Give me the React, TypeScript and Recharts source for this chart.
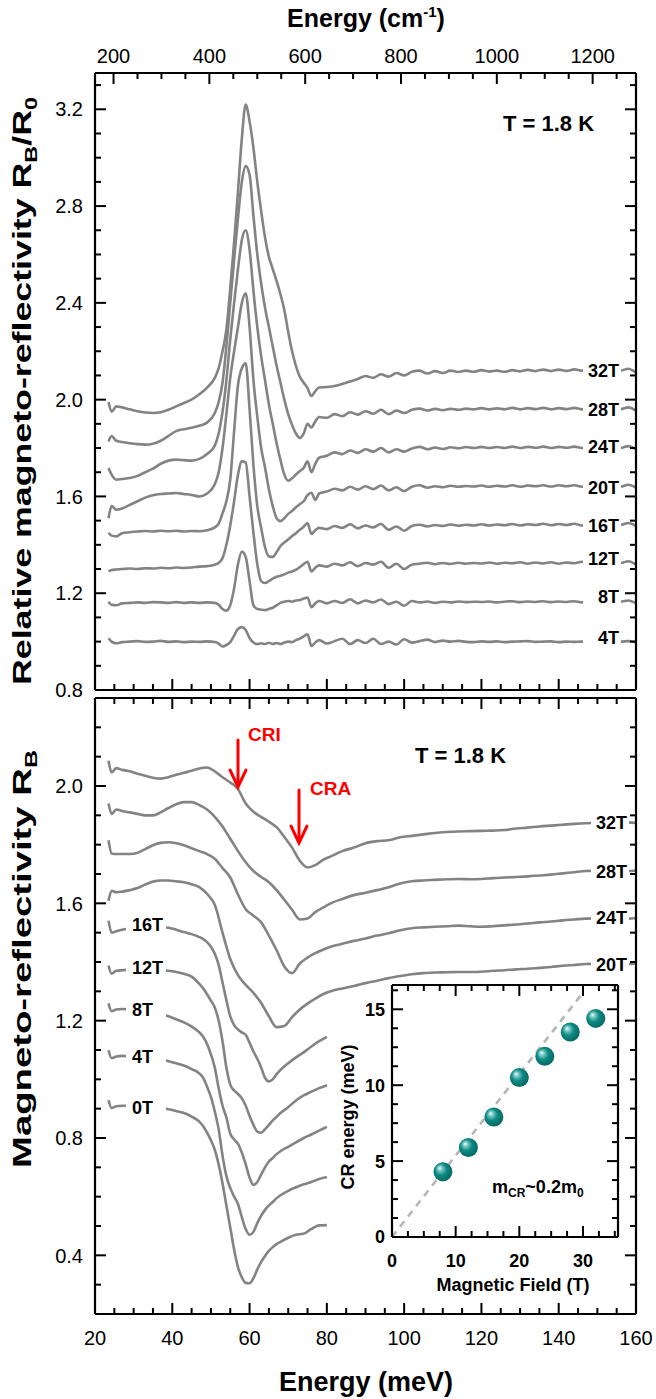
import React from "react";
import {
  LineChart,
  Line,
  XAxis,
  YAxis,
  ScatterChart,
  Scatter,
  ReferenceLine,
} from "recharts";

// ---------------------------------------------------------------------------
// Magneto-reflectivity figure: two stacked panels + CR inset
// ---------------------------------------------------------------------------

const FONT = '"Liberation Sans", Arial, Helvetica, sans-serif';
const CURVE_GRAY = "#838383";
const CM_PER_MEV = 8.0655;

// ---- axis ticks / labels ----
const ENERGY_TICKS = [20, 25, 30, 35, 40, 45, 50, 55, 60, 65, 70, 75, 80, 85, 90, 95, 100, 105, 110, 115, 120, 125, 130, 135, 140, 145, 150, 155, 160];
const ENERGY_LABELS = [20, 40, 60, 80, 100, 120, 140, 160];
const WAVENUMBER_TICKS = [200, 250, 300, 350, 400, 450, 500, 550, 600, 650, 700, 750, 800, 850, 900, 950, 1000, 1050, 1100, 1150, 1200, 1250];
const WAVENUMBER_LABELS = [200, 400, 600, 800, 1000, 1200];
const TOP_Y_TICKS = [0.8, 0.9, 1.0, 1.1, 1.2, 1.3, 1.4, 1.5, 1.6, 1.7, 1.8, 1.9, 2.0, 2.1, 2.2, 2.3, 2.4, 2.5, 2.6, 2.7, 2.8, 2.9, 3.0, 3.1, 3.2, 3.3];
const TOP_Y_LABELS = [0.8, 1.2, 1.6, 2.0, 2.4, 2.8, 3.2];
const BOT_Y_TICKS = [0.3, 0.4, 0.5, 0.6, 0.7, 0.8, 0.9, 1.0, 1.1, 1.2, 1.3, 1.4, 1.5, 1.6, 1.7, 1.8, 1.9, 2.0, 2.1, 2.2];
const BOT_Y_LABELS = [0.4, 0.8, 1.2, 1.6, 2.0];
const FIELD_TICKS = [0, 2.5, 5, 7.5, 10, 12.5, 15, 17.5, 20, 22.5, 25, 27.5, 30, 32.5, 35];
const FIELD_LABELS = [0, 10, 20, 30];
const CR_TICKS = [0, 1.25, 2.5, 3.75, 5, 6.25, 7.5, 8.75, 10, 11.25, 12.5, 13.75, 15, 16.25];
const CR_LABELS = [0, 5, 10, 15];

// ---- top panel: relative magneto-reflectivity R_B/R_0 ----
const TOP_E = [
  23.5, 24.3, 25.5, 27, 29, 31, 33, 35, 37, 39, 41, 43, 45, 47, 49, 51,
  52, 53, 54, 55, 56, 57, 58, 59, 60, 61, 62, 63, 64, 65, 66, 67, 68, 69, 70, 71, 72, 73, 74, 75, 76, 77, 78,
  80, 82, 84, 86, 88, 90, 92, 94, 96, 98, 100, 102, 104, 106, 108, 110, 112, 114, 116, 118, 120, 122, 124, 126, 128, 130, 132, 134, 136, 138, 140, 142, 144, 146, 148, 150, 152, 154, 156, 158, 160,
];
const TOP_4T = [
  1.014, 1.0, 0.993, 0.998, 1.0, 1.002, 0.999, 1.0, 1.003, 0.999, 1.001, 0.998, 1.0, 0.999, 1.001, 0.998,
  0.992, 0.98, 0.986, 0.998, 1.025, 1.052, 1.06, 1.048, 1.015, 0.996, 0.99, 0.993, 0.99, 0.995, 0.99, 0.994, 0.99, 0.996, 1.0, 0.998, 1.006, 1.012, 1.022, 1.03, 0.982, 0.996, 1.006,
  0.992, 1.002, 1.012, 0.99, 1.006, 0.994, 1.012, 0.99, 1.0, 0.988, 1.01, 0.996, 1.002, 1.008, 0.998, 1.004, 1.0, 1.003, 0.999, 0.998, 1.001, 0.999, 1.001, 0.998, 1.0, 1.001, 1.002, 0.999, 1.0, 1.001, 0.998, 1.0, 0.999, 1.0, 1.0, 1.0, 1.0, 1.0, 1.0, 1.002, 0.997,
];
const TOP_8T = [
  1.165, 1.152, 1.15, 1.158, 1.16, 1.162, 1.16, 1.163, 1.162, 1.16, 1.163, 1.16, 1.162, 1.16, 1.162, 1.16,
  1.152, 1.135, 1.128, 1.15, 1.22, 1.32, 1.372, 1.35, 1.25, 1.15, 1.135, 1.132, 1.13, 1.135, 1.14, 1.15, 1.16, 1.165, 1.168, 1.165, 1.17, 1.172, 1.178, 1.182, 1.142, 1.158, 1.168,
  1.158, 1.168, 1.16, 1.175, 1.158, 1.17, 1.162, 1.174, 1.155, 1.165, 1.148, 1.168, 1.162, 1.166, 1.16, 1.165, 1.162, 1.166, 1.163, 1.165, 1.164, 1.166, 1.162, 1.165, 1.167, 1.163, 1.166, 1.164, 1.167, 1.163, 1.166, 1.164, 1.167, 1.162, 1.165, 1.165, 1.165, 1.165, 1.165, 1.17, 1.158,
];
const TOP_12T = [
  1.29, 1.296, 1.298, 1.3, 1.302, 1.3, 1.303, 1.302, 1.305, 1.303, 1.306, 1.304, 1.306, 1.31, 1.312, 1.318,
  1.325, 1.345, 1.4, 1.48, 1.58, 1.69, 1.745, 1.74, 1.6, 1.45, 1.32, 1.25, 1.242, 1.25, 1.26, 1.268, 1.272, 1.278, 1.285, 1.29, 1.297, 1.308, 1.32, 1.33, 1.29, 1.305, 1.315,
  1.31, 1.322, 1.315, 1.328, 1.312, 1.325, 1.318, 1.33, 1.305, 1.322, 1.3, 1.318, 1.322, 1.326, 1.32, 1.325, 1.321, 1.326, 1.322, 1.325, 1.323, 1.327, 1.322, 1.326, 1.324, 1.328, 1.322, 1.327, 1.323, 1.328, 1.322, 1.327, 1.324, 1.33, 1.325, 1.325, 1.325, 1.325, 1.325, 1.332, 1.318,
];
const TOP_16T = [
  1.45, 1.438, 1.435, 1.448, 1.452, 1.455, 1.457, 1.455, 1.458, 1.456, 1.458, 1.455, 1.457, 1.456, 1.46, 1.472,
  1.488, 1.53, 1.58, 1.67, 1.87, 2.06, 2.13, 2.15, 1.96, 1.73, 1.56, 1.47, 1.39, 1.352, 1.35, 1.37, 1.395, 1.41, 1.422, 1.436, 1.448, 1.462, 1.475, 1.49, 1.445, 1.46, 1.47,
  1.465, 1.478, 1.47, 1.485, 1.468, 1.48, 1.472, 1.486, 1.462, 1.476, 1.458, 1.478, 1.483, 1.476, 1.482, 1.478, 1.484, 1.479, 1.483, 1.48, 1.485, 1.48, 1.484, 1.481, 1.486, 1.48, 1.485, 1.482, 1.487, 1.481, 1.486, 1.482, 1.487, 1.48, 1.483, 1.483, 1.483, 1.483, 1.483, 1.49, 1.478,
];
const TOP_20T = [
  1.51, 1.56, 1.545, 1.55, 1.565, 1.58, 1.595, 1.605, 1.61, 1.612, 1.614, 1.61, 1.606, 1.6, 1.612, 1.65,
  1.7, 1.8, 1.94, 2.09, 2.2, 2.3, 2.4, 2.44, 2.3, 2.08, 1.93, 1.8, 1.72, 1.63, 1.56, 1.51, 1.498, 1.51, 1.528, 1.54, 1.555, 1.568, 1.58, 1.605, 1.615, 1.585, 1.612,
  1.62, 1.632, 1.625, 1.64, 1.628, 1.642, 1.63, 1.645, 1.625, 1.638, 1.622, 1.64, 1.646, 1.636, 1.642, 1.638, 1.644, 1.64, 1.643, 1.641, 1.645, 1.64, 1.644, 1.641, 1.646, 1.64, 1.645, 1.642, 1.646, 1.641, 1.646, 1.642, 1.646, 1.64, 1.641, 1.641, 1.641, 1.641, 1.641, 1.648, 1.636,
];
const TOP_24T = [
  1.717, 1.69, 1.669, 1.672, 1.676, 1.685, 1.7, 1.715, 1.735, 1.748, 1.752, 1.75, 1.748, 1.755, 1.775, 1.81,
  1.86, 1.95, 2.08, 2.25, 2.4, 2.54, 2.66, 2.7, 2.62, 2.45, 2.3, 2.18, 2.08, 1.98, 1.9, 1.82, 1.75, 1.69, 1.665, 1.675, 1.69, 1.705, 1.718, 1.745, 1.7, 1.735, 1.76,
  1.768, 1.782, 1.775, 1.79, 1.78, 1.795, 1.785, 1.8, 1.782, 1.795, 1.785, 1.798, 1.805, 1.795, 1.802, 1.796, 1.803, 1.799, 1.804, 1.8, 1.805, 1.8, 1.804, 1.8, 1.806, 1.8, 1.805, 1.801, 1.806, 1.8, 1.805, 1.801, 1.806, 1.8, 1.8, 1.8, 1.8, 1.8, 1.8, 1.808, 1.795,
];
const TOP_28T = [
  1.827, 1.85, 1.83, 1.825, 1.82, 1.816, 1.814, 1.818, 1.83, 1.85, 1.87, 1.878, 1.884, 1.892, 1.905, 1.945,
  1.99, 2.07, 2.22, 2.4, 2.58, 2.75, 2.9, 2.965, 2.93, 2.76, 2.6, 2.48, 2.38, 2.3, 2.22, 2.14, 2.07, 2.0, 1.94, 1.895, 1.86, 1.842, 1.86, 1.9, 1.885, 1.91, 1.928,
  1.925, 1.94, 1.932, 1.948, 1.938, 1.952, 1.942, 1.958, 1.94, 1.955, 1.945, 1.958, 1.963, 1.955, 1.962, 1.956, 1.962, 1.958, 1.963, 1.96, 1.965, 1.96, 1.964, 1.96, 1.966, 1.96, 1.965, 1.961, 1.966, 1.96, 1.965, 1.961, 1.966, 1.96, 1.961, 1.961, 1.961, 1.961, 1.961, 1.968, 1.955,
];
const TOP_32T = [
  1.99, 1.95, 1.972, 1.968, 1.96, 1.952, 1.947, 1.945, 1.948, 1.958, 1.972, 1.986, 2.0, 2.022, 2.05, 2.09,
  2.13, 2.2, 2.29, 2.46, 2.65, 2.86, 3.08, 3.22, 3.15, 3.04, 2.9, 2.78, 2.67, 2.59, 2.54, 2.49, 2.435, 2.37, 2.28, 2.2, 2.14, 2.095, 2.07, 2.048, 2.015, 2.035, 2.05,
  2.052, 2.056, 2.065, 2.075, 2.085, 2.098, 2.09, 2.105, 2.095, 2.11, 2.1, 2.115, 2.12, 2.108, 2.118, 2.11, 2.12, 2.114, 2.12, 2.115, 2.122, 2.116, 2.12, 2.115, 2.122, 2.117, 2.123, 2.118, 2.124, 2.118, 2.124, 2.119, 2.125, 2.12, 2.12, 2.12, 2.12, 2.12, 2.12, 2.128, 2.112,
];

// ---- bottom panel: magneto-reflectivity R_B ----
const BOT_E_HIGH = [
  23.5, 24.3, 25.5, 27,
  29, 31, 33, 35, 37, 39, 41, 43, 45, 47, 49, 51, 53, 55, 57, 59, 61, 63, 65, 67, 69, 71, 73, 75, 77, 79,
  81, 84, 87, 90, 93, 96, 99, 102, 105, 108, 111, 114, 117, 120, 123, 126, 129, 132, 135, 138, 141, 144, 147, 150, 153, 156, 158, 160,
];
const BOT_32T = [
  2.086, 2.046, 2.061, 2.055,
  2.05, 2.042, 2.035, 2.028, 2.025, 2.03, 2.038, 2.045, 2.052, 2.06, 2.063, 2.05, 2.03, 2.012, 1.99, 1.94, 1.912, 1.895, 1.878, 1.86, 1.826, 1.79, 1.745, 1.722, 1.73, 1.748,
  1.76, 1.778, 1.79, 1.805, 1.812, 1.815, 1.825, 1.83, 1.835, 1.84, 1.843, 1.845, 1.846, 1.847, 1.848, 1.85, 1.855, 1.858, 1.862, 1.865, 1.868, 1.871, 1.873, 1.874, 1.875, 1.875, 1.876, 1.874,
];
const BOT_28T = [
  1.94, 1.905, 1.92, 1.915,
  1.91, 1.905, 1.9, 1.9, 1.91, 1.925, 1.938, 1.945, 1.945, 1.935, 1.92, 1.895, 1.862, 1.82, 1.778, 1.74, 1.71, 1.69, 1.672, 1.645, 1.612, 1.578, 1.545, 1.548, 1.57, 1.585,
  1.6, 1.615, 1.628, 1.636, 1.645, 1.655, 1.668, 1.675, 1.678, 1.68, 1.682, 1.683, 1.682, 1.683, 1.686, 1.688, 1.69, 1.692, 1.695, 1.698, 1.702, 1.706, 1.71, 1.711, 1.712, 1.712, 1.71, 1.712,
];
const BOT_24T = [
  1.815, 1.77, 1.768, 1.768,
  1.768, 1.772, 1.785, 1.798, 1.806, 1.808, 1.805, 1.798, 1.788, 1.778, 1.768, 1.752, 1.72, 1.688, 1.63, 1.58, 1.558, 1.535, 1.49, 1.44, 1.385, 1.362, 1.395, 1.415, 1.43, 1.442,
  1.452, 1.462, 1.472, 1.48, 1.49, 1.498, 1.508, 1.515, 1.518, 1.52, 1.522, 1.524, 1.522, 1.52, 1.522, 1.525, 1.528, 1.531, 1.535, 1.538, 1.542, 1.545, 1.548, 1.549, 1.55, 1.55, 1.548, 1.55,
];
const BOT_20T = [
  1.609, 1.643, 1.638, 1.64,
  1.645, 1.652, 1.664, 1.674, 1.678, 1.678, 1.675, 1.672, 1.665, 1.655, 1.632, 1.595, 1.5, 1.41, 1.355, 1.322, 1.295, 1.26, 1.215, 1.178, 1.182, 1.212, 1.238, 1.258, 1.275, 1.29,
  1.3, 1.31, 1.318, 1.328, 1.336, 1.345, 1.352, 1.358, 1.362, 1.364, 1.365, 1.366, 1.366, 1.367, 1.37, 1.372, 1.375, 1.377, 1.38, 1.383, 1.387, 1.39, 1.393, 1.394, 1.395, 1.395, 1.393, 1.395,
];

const BOT_E_LOW = [
  23.5, 24.3, 25.5, 27,
  29, 31, 33, 35, 37, 39, 41, 43, 45, 47,
  48, 49, 50, 51, 52, 53, 54, 55, 56, 57, 58, 59, 60, 61, 62, 63, 64, 65, 66, 67, 68,
  70, 72, 74, 76, 78, 80,
];
const BOT_16T = [
  1.541, 1.5, 1.505, 1.51,
  1.515, 1.518, 1.52, 1.52, 1.519, 1.517, 1.51, 1.502, 1.495, 1.485,
  1.478, 1.468, 1.452, 1.428, 1.39, 1.33, 1.27, 1.215, 1.185, 1.17, 1.16, 1.152, 1.125, 1.095, 1.07, 1.04, 1.005, 0.993, 1.0, 1.018, 1.032,
  1.055, 1.075, 1.092, 1.112, 1.13, 1.145,
];
const BOT_12T = [
  1.388, 1.36, 1.37, 1.372,
  1.374, 1.375, 1.375, 1.374, 1.372, 1.37, 1.366, 1.36, 1.35, 1.325,
  1.31, 1.29, 1.268, 1.245, 1.2, 1.13, 1.04, 0.982, 0.962, 0.95, 0.935, 0.91, 0.875, 0.845, 0.822, 0.818, 0.83, 0.845, 0.86, 0.872, 0.885,
  0.905, 0.928, 0.945, 0.958, 0.97, 0.98,
];
const BOT_8T = [
  1.259, 1.232, 1.238, 1.24,
  1.238, 1.235, 1.232, 1.228, 1.222, 1.215, 1.205, 1.194, 1.18, 1.16,
  1.145, 1.12, 1.085, 1.04, 0.97, 0.91, 0.87, 0.815, 0.795, 0.78, 0.75, 0.71, 0.665, 0.64, 0.65, 0.675, 0.7, 0.72, 0.732, 0.745, 0.755,
  0.77, 0.785, 0.8, 0.812, 0.825, 0.838,
];
const BOT_4T = [
  1.099, 1.072, 1.078, 1.08,
  1.078, 1.076, 1.074, 1.072, 1.068, 1.062, 1.055, 1.047, 1.035, 1.02,
  1.005, 0.975, 0.94, 0.89, 0.83, 0.74, 0.67, 0.63, 0.6, 0.575, 0.53, 0.49, 0.47, 0.48, 0.51, 0.535, 0.555, 0.57, 0.582, 0.595, 0.605,
  0.62, 0.632, 0.642, 0.65, 0.66, 0.667,
];
const BOT_0T = [
  0.929, 0.902, 0.908, 0.91,
  0.91, 0.909, 0.908, 0.906, 0.903, 0.898, 0.892, 0.885, 0.873, 0.856,
  0.84, 0.818, 0.792, 0.76, 0.71, 0.645, 0.57, 0.495, 0.42, 0.36, 0.325, 0.306, 0.305, 0.322, 0.352, 0.378, 0.398, 0.415, 0.428, 0.438, 0.446,
  0.46, 0.47, 0.474, 0.49, 0.502, 0.503,
];

// ---- inset: cyclotron resonance energy vs field ----
const CR_FIELD = [8, 12, 16, 20, 24, 28, 32];
const CR_ENERGY = [4.3, 5.9, 7.9, 10.5, 11.9, 13.5, 14.4];
const CR_FIT = [
  { B: 0, E: 0 },
  { B: 30, E: 16.1 },
];

const toPoints = (xs: number[], ys: number[]) => xs.map((x, i) => ({ x, y: ys[i] }));

const TOP_SERIES = [
  { name: "4T", pts: toPoints(TOP_E, TOP_4T) },
  { name: "8T", pts: toPoints(TOP_E, TOP_8T) },
  { name: "12T", pts: toPoints(TOP_E, TOP_12T) },
  { name: "16T", pts: toPoints(TOP_E, TOP_16T) },
  { name: "20T", pts: toPoints(TOP_E, TOP_20T) },
  { name: "24T", pts: toPoints(TOP_E, TOP_24T) },
  { name: "28T", pts: toPoints(TOP_E, TOP_28T) },
  { name: "32T", pts: toPoints(TOP_E, TOP_32T) },
];
const BOT_SERIES = [
  { name: "0T", pts: toPoints(BOT_E_LOW, BOT_0T) },
  { name: "4T", pts: toPoints(BOT_E_LOW, BOT_4T) },
  { name: "8T", pts: toPoints(BOT_E_LOW, BOT_8T) },
  { name: "12T", pts: toPoints(BOT_E_LOW, BOT_12T) },
  { name: "16T", pts: toPoints(BOT_E_LOW, BOT_16T) },
  { name: "20T", pts: toPoints(BOT_E_HIGH, BOT_20T) },
  { name: "24T", pts: toPoints(BOT_E_HIGH, BOT_24T) },
  { name: "28T", pts: toPoints(BOT_E_HIGH, BOT_28T) },
  { name: "32T", pts: toPoints(BOT_E_HIGH, BOT_32T) },
];
const CR_POINTS = CR_FIELD.map((B, i) => ({ B, E: CR_ENERGY[i] }));

// ---- label placement (page pixels) ----
const TOP_RIGHT_LABELS = [
  { t: "32T", y: 371 },
  { t: "28T", y: 410 },
  { t: "24T", y: 447 },
  { t: "20T", y: 488 },
  { t: "16T", y: 526 },
  { t: "12T", y: 559 },
  { t: "8T", y: 597 },
  { t: "4T", y: 638 },
];
const BOT_RIGHT_LABELS = [
  { t: "32T", y: 823 },
  { t: "28T", y: 872 },
  { t: "24T", y: 918 },
  { t: "20T", y: 965 },
];
const BOT_LEFT_LABELS = [
  { t: "16T", y: 925 },
  { t: "12T", y: 968 },
  { t: "8T", y: 1010 },
  { t: "4T", y: 1057 },
  { t: "0T", y: 1108 },
];

// ---- tick renderer: inward ticks, optional labels ----
type Side = "top" | "bottom" | "left" | "right";
interface TickOpts {
  side: Side;
  isMajor: (v: number) => boolean;
  label?: (v: number) => string;
  offset?: number;
  fontSize?: number;
  bold?: boolean;
}
const near = (list: number[], v: number) => list.some((m) => Math.abs(m - v) < 1e-6);

function makeTick(o: TickOpts) {
  return (props: any) => {
    const { x, y, payload } = props;
    const v: number = payload.value;
    const major = o.isMajor(v);
    const len = major ? 11 : 6;
    const dx = o.side === "left" ? len : o.side === "right" ? -len : 0;
    const dy = o.side === "bottom" ? -len : o.side === "top" ? len : 0;
    const fs = o.fontSize ?? 20;
    let text: React.ReactNode = null;
    if (major && o.label) {
      const off = o.offset ?? 0;
      let tx = x;
      let ty = y;
      let anchor: "middle" | "end" = "middle";
      if (o.side === "bottom") ty = y + off;
      else if (o.side === "top") ty = y - off;
      else if (o.side === "left") {
        tx = x - off;
        ty = y + fs * 0.36;
        anchor = "end";
      }
      text = (
        <text x={tx} y={ty} textAnchor={anchor} fontSize={fs} fontWeight={o.bold ? "bold" : "normal"} fontFamily={FONT} fill="#000">
          {o.label(v)}
        </text>
      );
    }
    return (
      <g>
        <line x1={x} y1={y} x2={x + dx} y2={y + dy} stroke="#000" strokeWidth={2} />
        {text}
      </g>
    );
  };
}

const AXIS_LINE = { stroke: "#000", strokeWidth: 2.2 };
const axisCommon = {
  type: "number" as const,
  allowDataOverflow: true,
  interval: 0 as const,
  tickSize: 0,
  tickMargin: 0,
  tickLine: false,
  axisLine: AXIS_LINE,
};

const energyMajor = (v: number) => near(ENERGY_LABELS, v);
const cmMajor = (v: number) => near(WAVENUMBER_LABELS, Math.round(v * CM_PER_MEV));

// axes are 1px thick boxes, so margins are one pixel short of the frame position
function TopPanel() {
  return (
    <LineChart width={656} height={700} margin={{ top: 72, right: 19, bottom: 9, left: 94 }}>
      <XAxis xAxisId="b" dataKey="x" {...axisCommon} domain={[20, 160]} ticks={ENERGY_TICKS} height={1} tick={makeTick({ side: "bottom", isMajor: energyMajor })} />
      <XAxis
        xAxisId="t"
        orientation="top"
        dataKey="x"
        {...axisCommon}
        domain={[20, 160]}
        ticks={WAVENUMBER_TICKS.map((c) => c / CM_PER_MEV)}
        height={1}
        tick={makeTick({ side: "top", isMajor: cmMajor, label: (v) => String(Math.round(v * CM_PER_MEV)), offset: 10 })}
      />
      <YAxis yAxisId="l" {...axisCommon} domain={[0.8, 3.35]} ticks={TOP_Y_TICKS} width={1} tick={makeTick({ side: "left", isMajor: (v) => near(TOP_Y_LABELS, v), label: (v) => v.toFixed(1), offset: 12 })} />
      <YAxis yAxisId="r" orientation="right" {...axisCommon} domain={[0.8, 3.35]} ticks={TOP_Y_TICKS} width={1} tick={makeTick({ side: "right", isMajor: (v) => near(TOP_Y_LABELS, v) })} />
      {TOP_SERIES.map((s) => (
        <Line key={s.name} xAxisId="b" yAxisId="l" data={s.pts} dataKey="y" type="monotone" stroke={CURVE_GRAY} strokeWidth={2.6} dot={false} isAnimationActive={false} />
      ))}
    </LineChart>
  );
}

function BottomPanel() {
  return (
    <LineChart width={656} height={709} margin={{ top: 7, right: 19, bottom: 84, left: 94 }}>
      <XAxis xAxisId="b" dataKey="x" {...axisCommon} domain={[20, 160]} ticks={ENERGY_TICKS} height={1} tick={makeTick({ side: "bottom", isMajor: energyMajor, label: (v) => String(v), offset: 31 })} />
      <XAxis xAxisId="t" orientation="top" dataKey="x" {...axisCommon} domain={[20, 160]} ticks={ENERGY_TICKS} height={1} tick={makeTick({ side: "top", isMajor: energyMajor })} />
      <YAxis yAxisId="l" {...axisCommon} domain={[0.2, 2.3]} ticks={BOT_Y_TICKS} width={1} tick={makeTick({ side: "left", isMajor: (v) => near(BOT_Y_LABELS, v), label: (v) => v.toFixed(1), offset: 12 })} />
      <YAxis yAxisId="r" orientation="right" {...axisCommon} domain={[0.2, 2.3]} ticks={BOT_Y_TICKS} width={1} tick={makeTick({ side: "right", isMajor: (v) => near(BOT_Y_LABELS, v) })} />
      {BOT_SERIES.map((s) => (
        <Line key={s.name} xAxisId="b" yAxisId="l" data={s.pts} dataKey="y" type="monotone" stroke={CURVE_GRAY} strokeWidth={2.6} dot={false} isAnimationActive={false} />
      ))}
    </LineChart>
  );
}

function Inset() {
  const fieldMajor = (v: number) => near(FIELD_LABELS, v);
  const crMajor = (v: number) => near(CR_LABELS, v);
  return (
    <ScatterChart width={300} height={330} margin={{ top: 9, right: 11, bottom: 67, left: 61 }}>
      <XAxis xAxisId="b" dataKey="B" {...axisCommon} domain={[0, 35.5]} ticks={FIELD_TICKS} height={1} tick={makeTick({ side: "bottom", isMajor: fieldMajor, label: (v) => String(v), offset: 30, fontSize: 18, bold: true })} />
      <XAxis xAxisId="t" orientation="top" dataKey="B" {...axisCommon} domain={[0, 35.5]} ticks={FIELD_TICKS} height={1} tick={makeTick({ side: "top", isMajor: fieldMajor })} />
      <YAxis yAxisId="l" dataKey="E" {...axisCommon} domain={[0, 16.6]} ticks={CR_TICKS} width={1} tick={makeTick({ side: "left", isMajor: crMajor, label: (v) => String(v), offset: 7, fontSize: 18, bold: true })} />
      <YAxis yAxisId="r" orientation="right" dataKey="E" {...axisCommon} domain={[0, 16.6]} ticks={CR_TICKS} width={1} tick={makeTick({ side: "right", isMajor: crMajor })} />
      <ReferenceLine
        xAxisId="b"
        yAxisId="l"
        segment={[CR_FIT[0], CR_FIT[1]].map((p) => ({ x: p.B, y: p.E }))}
        stroke="#b5b5b5"
        strokeWidth={2.6}
        strokeDasharray="7 6"
        ifOverflow="visible"
      />
      <Scatter
        xAxisId="b"
        yAxisId="l"
        data={CR_POINTS}
        isAnimationActive={false}
        shape={(p: any) => <circle cx={p.cx} cy={p.cy} r={9.5} fill="url(#teal-sphere)" />}
      />
    </ScatterChart>
  );
}

const boldText = { fontFamily: FONT, fontWeight: "bold" as const, fill: "#000" };

function Annotations() {
  return (
    <svg width={656} height={1399} style={{ position: "absolute", left: 0, top: 0, pointerEvents: "none" }}>
      {/* axis titles */}
      <text x={366} y={27} textAnchor="middle" fontSize={25} {...boldText}>
        Energy (cm<tspan dy={-10} fontSize={15}>-1</tspan>
        <tspan dy={10}>)</tspan>
      </text>
      <text x={366} y={1391} textAnchor="middle" fontSize={27} {...boldText}>
        Energy (meV)
      </text>
      <text transform="translate(31,391) rotate(-90)" textAnchor="middle" fontSize={26} textLength={588} lengthAdjust="spacingAndGlyphs" {...boldText}>
        Relative magneto-reflectivity R<tspan dy={6} fontSize={17}>B</tspan>
        <tspan dy={-6}>/R</tspan>
        <tspan dy={6} fontSize={17}>0</tspan>
      </text>
      <text transform="translate(31,959) rotate(-90)" textAnchor="middle" fontSize={26} textLength={418} lengthAdjust="spacingAndGlyphs" {...boldText}>
        Magneto-reflectivity R<tspan dy={6} fontSize={17}>B</tspan>
      </text>

      {/* temperatures */}
      <text x={503} y={131} fontSize={22} {...boldText}>T = 1.8 K</text>
      <text x={415} y={763} fontSize={22} {...boldText}>T = 1.8 K</text>

      {/* field labels */}
      {TOP_RIGHT_LABELS.map((l) => (
        <g key={"tr" + l.t}>
          <rect x={583} y={l.y - 8} width={38} height={16} fill="#fff" />
          <text x={619} y={l.y + 6.4} textAnchor="end" fontSize={18} {...boldText}>{l.t}</text>
        </g>
      ))}
      {BOT_RIGHT_LABELS.map((l) => (
        <g key={"br" + l.t}>
          <rect x={591} y={l.y - 8} width={38} height={16} fill="#fff" />
          <text x={627} y={l.y + 6.4} textAnchor="end" fontSize={18} {...boldText}>{l.t}</text>
        </g>
      ))}
      {BOT_LEFT_LABELS.map((l) => (
        <g key={"bl" + l.t}>
          <rect x={126} y={l.y - 8} width={40} height={16} fill="#fff" />
          <text x={132} y={l.y + 6.4} fontSize={18} {...boldText}>{l.t}</text>
        </g>
      ))}

      {/* CRI / CRA arrows */}
      <g stroke="#ff0000" strokeWidth={3} fill="none" strokeLinecap="round">
        <line x1={238} y1={740} x2={238} y2={785} />
        <polyline points="230,770 238,787 246,770" />
        <line x1={299} y1={790} x2={299} y2={841} />
        <polyline points="291,826 299,843 307,826" />
      </g>
      <text x={248} y={741} fontSize={19} fontFamily={FONT} fontWeight="bold" fill="#ff0000">CRI</text>
      <text x={310} y={795} fontSize={19} fontFamily={FONT} fontWeight="bold" fill="#ff0000">CRA</text>

      {/* inset titles */}
      <text x={513} y={1291} textAnchor="middle" fontSize={18} {...boldText}>Magnetic Field (T)</text>
      <text transform="translate(354,1117) rotate(-90)" textAnchor="middle" fontSize={18} {...boldText}>CR energy (meV)</text>
      <text x={492} y={1193} fontSize={18} {...boldText}>
        m<tspan dy={4} fontSize={12}>CR</tspan>
        <tspan dy={-4}>~0.2m</tspan>
        <tspan dy={4} fontSize={12}>0</tspan>
      </text>
    </svg>
  );
}

export default function App() {
  return (
    <div style={{ position: "absolute", left: 0, top: 0, width: 656, height: 1399, background: "#fff", overflow: "hidden" }}>
      <svg width={0} height={0} style={{ position: "absolute" }}>
        <defs>
          <radialGradient id="teal-sphere" cx="0.45" cy="0.45" r="0.6" fx="0.32" fy="0.3">
            <stop offset="0" stopColor="#f2ffff" />
            <stop offset="0.18" stopColor="#86cfcb" />
            <stop offset="0.5" stopColor="#0f8b85" />
            <stop offset="1" stopColor="#04635e" />
          </radialGradient>
        </defs>
      </svg>
      <div style={{ position: "absolute", left: 0, top: 0 }}>
        <TopPanel />
      </div>
      <div style={{ position: "absolute", left: 0, top: 690 }}>
        <BottomPanel />
      </div>
      <div style={{ position: "absolute", left: 330, top: 975 }}>
        <Inset />
      </div>
      <Annotations />
    </div>
  );
}
